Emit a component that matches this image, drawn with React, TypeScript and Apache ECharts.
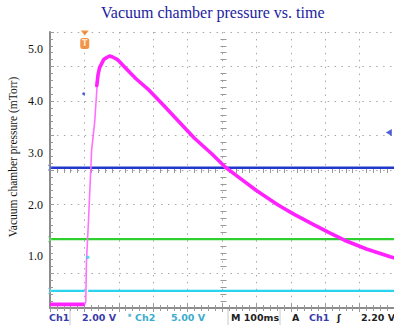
import React, { useEffect, useRef } from "react";
import * as echarts from "echarts";

// time in ms (100 ms / division), pressure in mTorr
const X_MIN = 0;
const X_MAX = 1000;
const Y_MAX = 16 / 3;
const DIV_Y = 2 / 3;

const ch1Baseline: [number, number][] = [
  [0, 0.07], [50, 0.07], [101, 0.07],
];
const ch1Rise: [number, number][] = [
  [101, 0.07], [104, 0.12], [106, 0.9], [112, 1.7], [121, 3.05], [130, 3.6],
  [138, 4.4], [144, 4.64],
];
const ch1Decay: [number, number][] = [
  [136, 4.3], [140, 4.52], [144, 4.64], [156, 4.8], [165, 4.84], [173, 4.87], [182, 4.85],
  [196, 4.8], [216, 4.66], [250, 4.43], [288, 4.21], [330, 3.92], [375, 3.6],
  [420, 3.28], [470, 2.98], [510, 2.72], [548, 2.53], [600, 2.27], [663, 1.99],
  [710, 1.81], [758, 1.64], [810, 1.46], [856, 1.31], [920, 1.14], [989, 0.99],
  [1000, 0.97],
];
const blueLevel = 2.71;
const greenLevel = 1.33;
const cyanLevel = 0.33;
const cyanGap = [101, 111];
const triggerTime = 101;
const blueDot: [number, number] = [98, 4.14];
const cyanDot: [number, number] = [110, 0.98];
const triggerLevelMark: [number, number] = [985, 3.39];
const yTickLabels = [1, 2, 3, 4, 5];

const COLORS = {
  magenta: "#ff22ff",
  magentaEdge: "#ff70ff",
  blue: "#2238cc",
  green: "#2fcf2f",
  cyan: "#2ad4ee",
  orange: "#f07a1a",
};

export default function App() {
  const ref = useRef<HTMLDivElement>(null);
  useEffect(() => {
    document.body.style.margin = "0";
    const chart = echarts.init(ref.current!, null, { renderer: "svg" });
    const gridLine = { color: "#a8a8a8", width: 1, type: [1.5, 5.44] as any };
    const borderAxisX = (pos: string) => ({
      type: "value",
      min: X_MIN,
      max: X_MAX,
      interval: 100,
      position: pos,
      axisLine: { show: true, lineStyle: { color: "#8c8c8c", width: 2 } },
      axisTick: { show: true, inside: true, length: 4, lineStyle: { color: "#999" } },
      minorTick: { show: true, splitNumber: 5, length: 3, lineStyle: { color: "#999" } },
      axisLabel: { show: false },
      splitLine: { show: false },
    });
    const centerAxisX = {
      type: "value",
      min: X_MIN,
      max: X_MAX,
      interval: 100,
      position: "bottom",
      offset: -135,
      axisLine: { show: false },
      axisTick: { show: false, inside: true },
      minorTick: { show: true, splitNumber: 5, length: 6, lineStyle: { color: "#999" } },
      axisLabel: { show: false },
      splitLine: { show: false },
    };
    const centerAxisY = {
      type: "value",
      min: 0,
      max: Y_MAX,
      interval: DIV_Y,
      position: "left",
      offset: -170.5,
      axisLine: { show: false },
      axisTick: { show: false, inside: true },
      minorTick: { show: true, splitNumber: 5, length: 6, lineStyle: { color: "#999" } },
      axisLabel: { show: false },
      splitLine: { show: false },
    };
    const statusFont = {
      fontFamily: "DejaVu Sans",
      fontWeight: "bold",
      fontSize: 9.5,
      textVerticalAlign: "middle",
    };
    const sy = 317;
    const cyanData: any[] = [
      [X_MIN, cyanLevel],
      [cyanGap[0], cyanLevel],
      [(cyanGap[0] + cyanGap[1]) / 2, "-"],
      [cyanGap[1], cyanLevel],
      [X_MAX, cyanLevel],
    ];
    const chevron = "path://M0,0L6,5L0,10L0,8L4,5L0,2Z";
    chart.setOption({
      animation: false,
      backgroundColor: "#ffffff",
      grid: { left: 50, top: 32, right: -3, bottom: 17, show: false },
      xAxis: [
        {
          ...borderAxisX("bottom"),
          splitLine: { show: true, lineStyle: gridLine },
        },
        borderAxisX("top"),
        centerAxisX,
      ],
      yAxis: [
        {
          type: "value",
          min: 0,
          max: Y_MAX,
          interval: DIV_Y,
          position: "left",
          axisLine: { show: true, lineStyle: { color: "#8c8c8c", width: 2 } },
          axisTick: { show: true, inside: true, length: 4, lineStyle: { color: "#999" } },
          minorTick: { show: true, splitNumber: 5, length: 3, lineStyle: { color: "#999" } },
          axisLabel: { show: false },
          splitLine: { show: true, lineStyle: gridLine },
        },
        {
          type: "value",
          min: 0,
          max: Y_MAX,
          interval: 1,
          position: "left",
          axisLine: { show: false },
          axisTick: { show: false },
          splitLine: { show: false },
          axisLabel: {
            show: true,
            margin: 7,
            showMinLabel: false,
            showMaxLabel: false,
            fontFamily: "Liberation Serif",
            fontSize: 12,
            color: "#111",
            formatter: (v: number) =>
              yTickLabels.some((t) => Math.abs(t - v) < 1e-6) ? v.toFixed(1) : "",
          },
        },
        centerAxisY,
      ],
      series: [
        {
          type: "line",
          data: cyanData,
          showSymbol: false,
          lineStyle: { color: COLORS.cyan, width: 2.2 },
          z: 3,
        },
        {
          type: "line",
          data: [[X_MIN, greenLevel], [X_MAX, greenLevel]],
          showSymbol: false,
          lineStyle: { color: COLORS.green, width: 2.2 },
          z: 3,
        },
        {
          type: "line",
          data: [[X_MIN, blueLevel], [X_MAX, blueLevel]],
          showSymbol: false,
          lineStyle: { color: COLORS.blue, width: 2.4 },
          z: 3,
        },
        {
          type: "line",
          data: ch1Baseline,
          showSymbol: false,
          lineStyle: { color: COLORS.magenta, width: 3.6 },
          z: 4,
        },
        {
          type: "line",
          data: ch1Rise,
          showSymbol: false,
          lineStyle: { color: COLORS.magentaEdge, width: 1.6 },
          z: 4,
        },
        {
          type: "line",
          data: ch1Decay,
          showSymbol: false,
          lineStyle: { color: COLORS.magenta, width: 3.6, cap: "round", join: "round" },
          z: 4,
        },
        {
          type: "scatter",
          data: [blueDot],
          symbol: "circle",
          symbolSize: 3,
          itemStyle: { color: COLORS.blue },
          z: 5,
        },
        {
          type: "scatter",
          data: [cyanDot],
          symbol: "circle",
          symbolSize: 3.5,
          itemStyle: { color: COLORS.cyan },
          z: 5,
        },
        {
          type: "scatter",
          data: [triggerLevelMark],
          symbol: "triangle",
          symbolRotate: 90,
          symbolSize: [7, 6],
          itemStyle: { color: COLORS.blue },
          clip: false,
          z: 5,
        },
        {
          type: "scatter",
          data: [[triggerTime, Y_MAX]],
          symbol: "triangle",
          symbolRotate: 180,
          symbolSize: [8, 5],
          symbolOffset: [0, 1],
          itemStyle: { color: COLORS.orange },
          clip: false,
          z: 6,
        },
        {
          type: "scatter",
          data: [[triggerTime, Y_MAX - 0.22]],
          symbol: "roundRect",
          symbolSize: [9, 11],
          itemStyle: { color: COLORS.orange },
          label: {
            show: true,
            position: "inside",
            formatter: "T",
            color: "#fff",
            fontSize: 8,
            fontWeight: "bold",
            fontFamily: "DejaVu Sans",
          },
          clip: false,
          z: 6,
        },
        {
          type: "scatter",
          data: [
            { value: [X_MIN, blueLevel], itemStyle: { color: "#7b8ad8" } },
            { value: [X_MIN, greenLevel], itemStyle: { color: "#7bd87b" } },
            { value: [X_MIN, cyanLevel], itemStyle: { color: "#7bdcec" } },
          ],
          symbol: chevron,
          symbolSize: [4, 7],
          clip: false,
          z: 6,
        },
      ],
      graphic: [
        {
          type: "text",
          left: 217 - 116,
          top: 4,
          style: {
            text: "Vacuum chamber pressure vs. time",
            fontFamily: "Liberation Serif",
            fontSize: 16,
            fill: "#1c1ca2",
          },
        },
        {
          type: "text",
          x: 13,
          y: 157,
          rotation: Math.PI / 2,
          style: {
            text: "Vacuum chamber pressure (mTorr)",
            fontFamily: "Liberation Serif",
            fontSize: 11.5,
            fill: "#111",
            textAlign: "center",
            textVerticalAlign: "middle",
          },
        },
        { type: "line", shape: { x1: 70, y1: 309, x2: 70, y2: 325 }, style: { stroke: "#c8c8c8", lineWidth: 1 } },
        { type: "line", shape: { x1: 228, y1: 309, x2: 228, y2: 325 }, style: { stroke: "#c8c8c8", lineWidth: 1 } },
        { type: "line", shape: { x1: 280, y1: 309, x2: 280, y2: 325 }, style: { stroke: "#c8c8c8", lineWidth: 1 } },
        { type: "text", style: { ...statusFont, x: 49, y: sy, text: "Ch1", fill: "#3a3aaa" } },
        { type: "text", style: { ...statusFont, x: 82, y: sy, text: "2.00 V", fill: "#3a3aaa" } },
        { type: "text", style: { ...statusFont, x: 128, y: sy, text: "\u1D2E", fontSize: 7, fill: "#3aaccc" } },
        { type: "text", style: { ...statusFont, x: 135, y: sy, text: "Ch2", fill: "#3aaccc" } },
        { type: "text", style: { ...statusFont, x: 171, y: sy, text: "5.00 V", fill: "#3aaccc" } },
        { type: "text", style: { ...statusFont, x: 231, y: sy, text: "M 100ms", fill: "#222" } },
        { type: "text", style: { ...statusFont, x: 292, y: sy, text: "A", fill: "#222" } },
        { type: "text", style: { ...statusFont, x: 309, y: sy, text: "Ch1", fill: "#3a3aaa" } },
        { type: "text", style: { ...statusFont, x: 337, y: sy, text: "\u0283", fill: "#222" } },
        { type: "text", style: { ...statusFont, x: 361, y: sy, text: "2.20 V", fill: "#222" } },
      ],
    });
    return () => chart.dispose();
  }, []);
  return <div ref={ref} style={{ width: 394, height: 325 }} />;
}
